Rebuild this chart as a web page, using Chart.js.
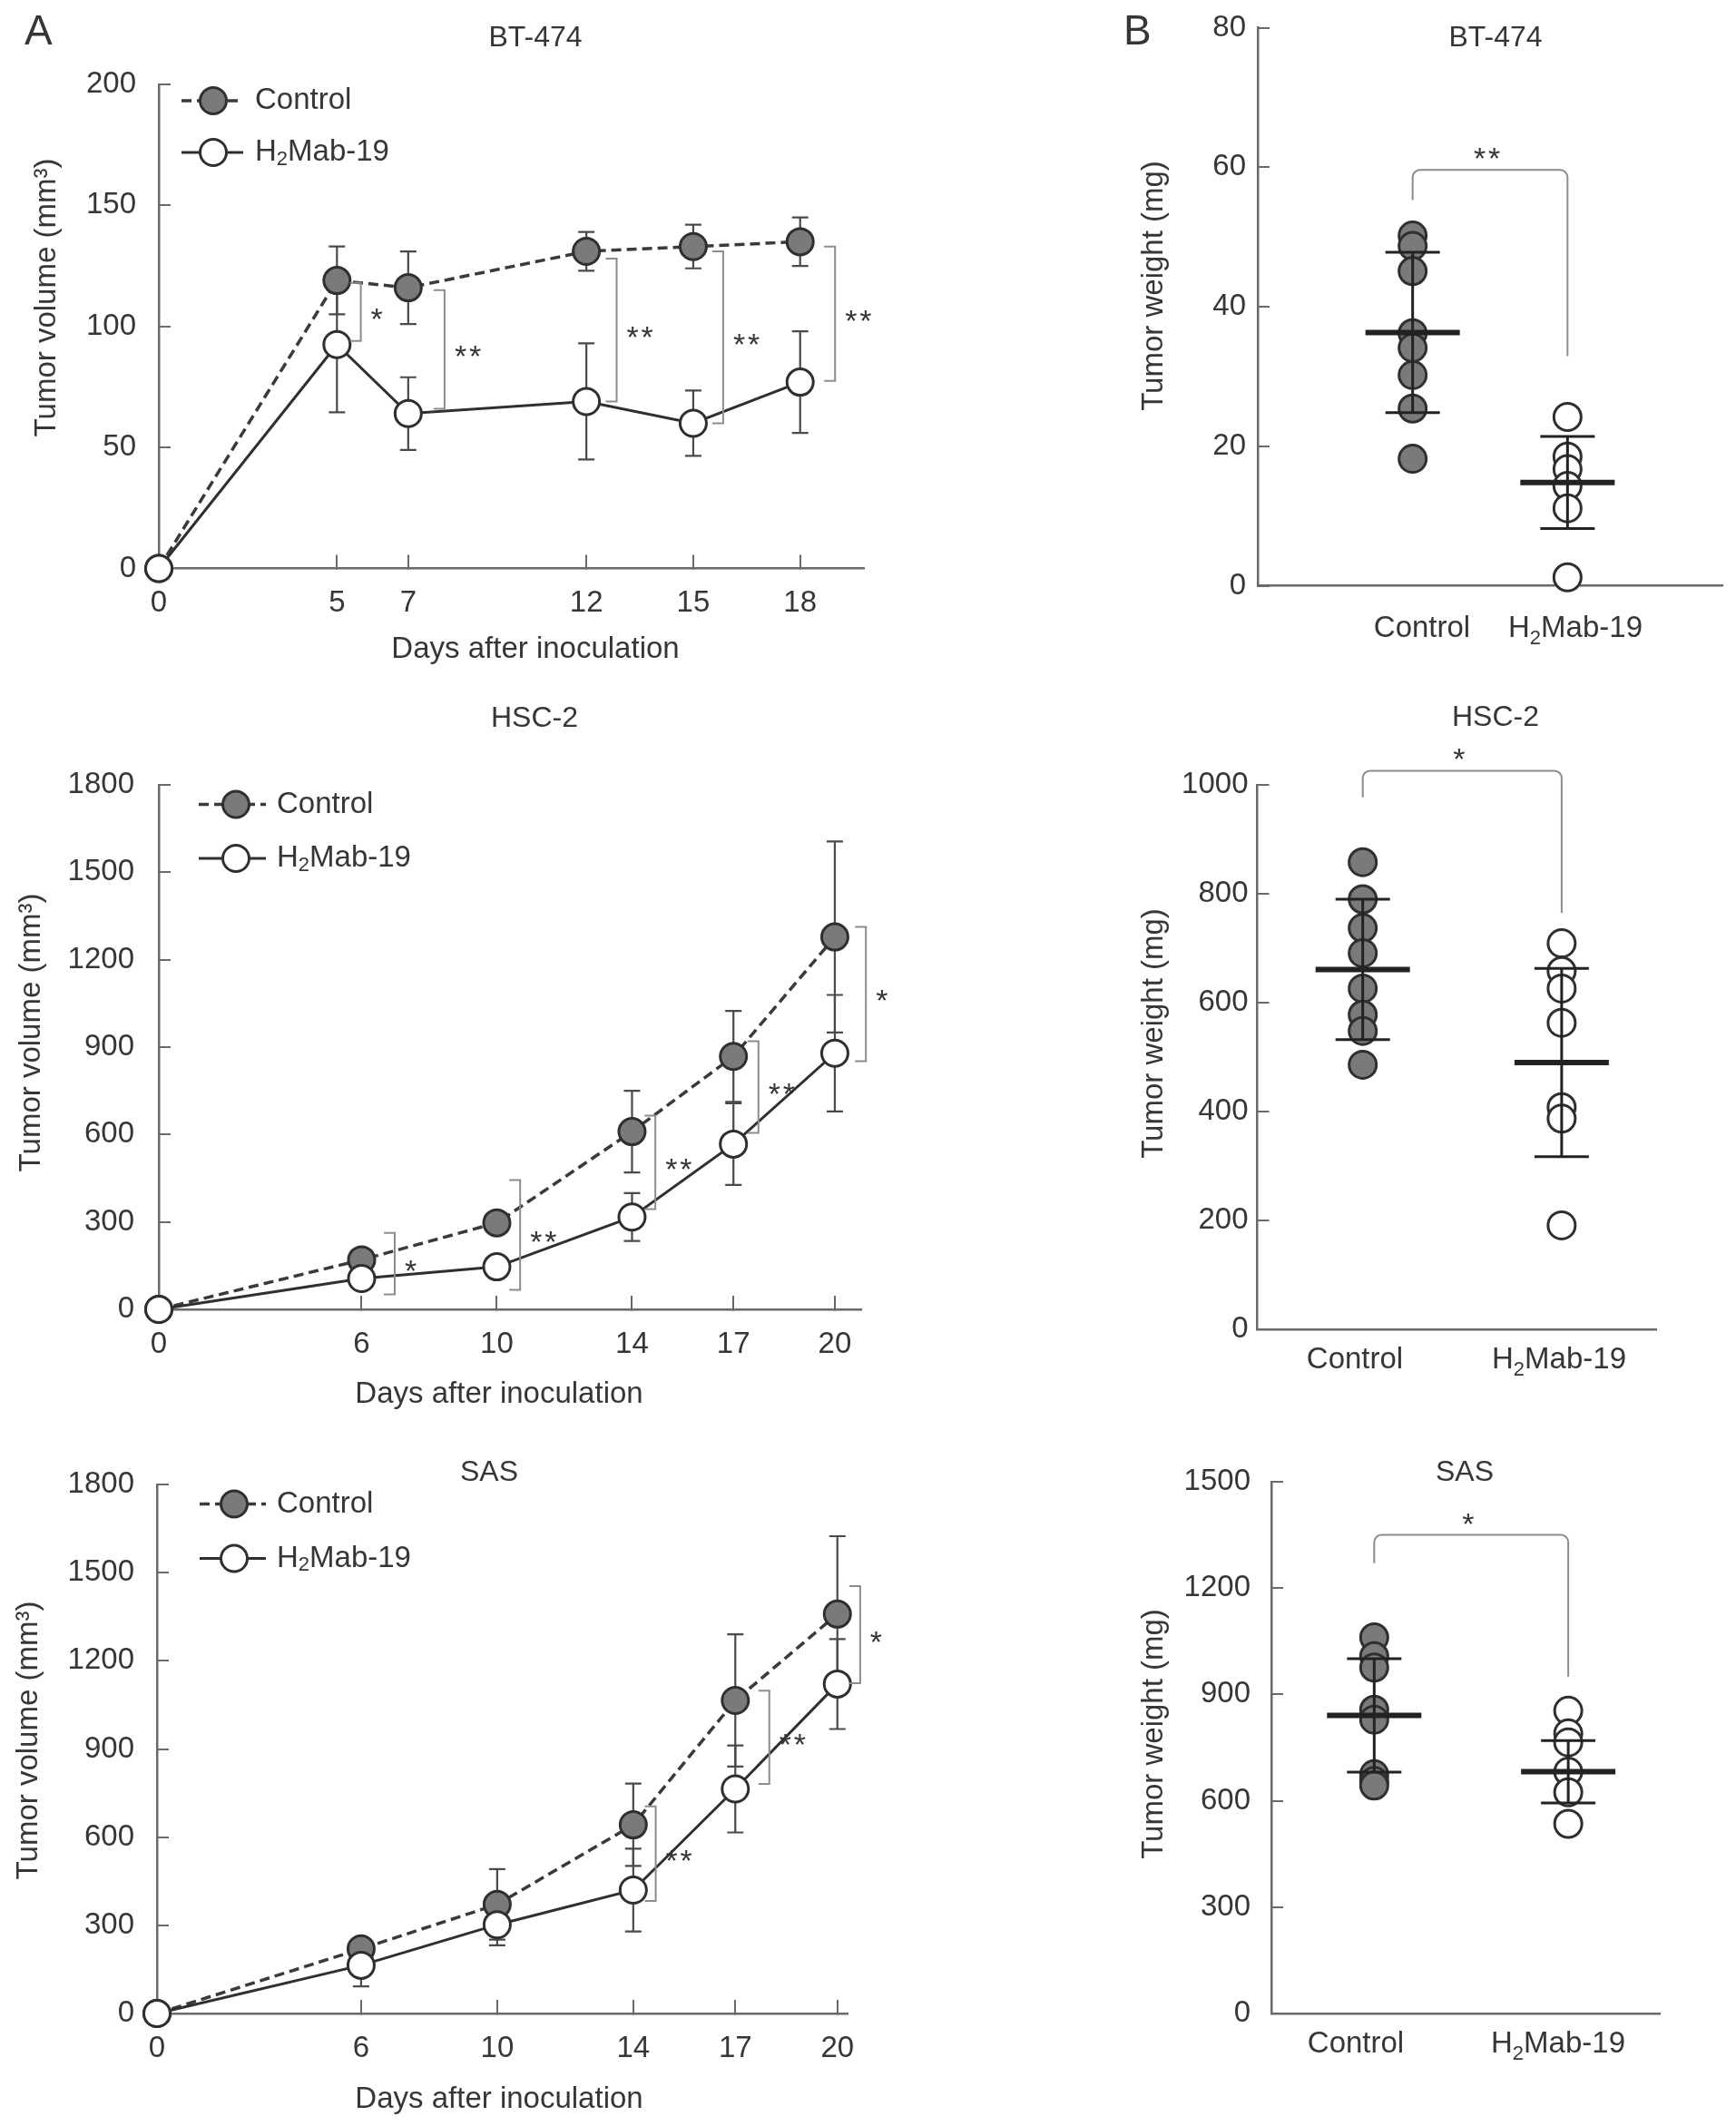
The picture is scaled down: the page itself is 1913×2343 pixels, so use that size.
<!DOCTYPE html>
<html lang="en">
<head>
<meta charset="UTF-8">
<title>H2Mab-19 tumour volume and weight</title>
<script src="https://cdn.jsdelivr.net/npm/chart.js"></script>
<style>
  body { margin: 0; background: #fff; }
  #page { position: relative; width: 1913px; height: 2343px; background: #fff; overflow: hidden; }
  .panel { position: absolute; }
</style>
</head>
<body>
<div id="page">
  <div class="panel" id="pA1"><canvas></canvas></div>
  <div class="panel" id="pA2"><canvas></canvas></div>
  <div class="panel" id="pA3"><canvas></canvas></div>
  <div class="panel" id="pB1"><canvas></canvas></div>
  <div class="panel" id="pB2"><canvas></canvas></div>
  <div class="panel" id="pB3"><canvas></canvas></div>
</div>

<script>
  // ---- A: tumour volume (mean +/- SD) ----
  const btDays = [0, 5, 7, 12, 15, 18];
  const btCtrl = [0, 119, 116, 131, 133, 135];
  const btCtrlSd = [0, 14, 15, 8, 9, 10];
  const btMab = [0, 92.5, 64, 69, 60, 77];
  const btMabSd = [0, 28, 15, 24, 13.5, 21];
  const btVolTicks = [0, 50, 100, 150, 200];
  // brackets: [day position, upper value, lower value, mark]
  const btSig = [[5.67, 118, 94, '*'], [8.02, 115, 66, '**'], [12.85, 128, 69, '**'], [15.84, 131, 60, '**'], [18.98, 133, 77.5, '**']];

  const hscDays = [0, 6, 10, 14, 17, 20];
  const hscCtrl = [0, 170, 297, 610, 868, 1278];
  const hscCtrlSd = [0, 25, 35, 140, 156, 328];
  const hscMab = [0, 106, 146, 317, 567, 879];
  const hscMabSd = [0, 30, 25, 82, 140, 200];
  const hscVolTicks = [0, 300, 600, 900, 1200, 1500, 1800];
  const hscSig = [[6.98, 262, 51, '*'], [10.69, 444, 67, '**'], [14.69, 665, 344, '**'], [17.74, 920, 606, '**'], [20.92, 1313, 852, '*']];

  const sasDays = [0, 6, 10, 14, 17, 20];
  const sasCtrl = [0, 220, 371, 642, 1065, 1359];
  const sasCtrlSd = [0, 25, 120, 140, 225, 265];
  const sasMab = [0, 164, 302, 420, 764, 1121];
  const sasMabSd = [0, 72, 70, 141, 148, 153];
  const sasVolTicks = [0, 300, 600, 900, 1200, 1500, 1800];
  const sasSig = [[14.66, 705, 383, '**'], [18.0, 1098, 781, '**'], [20.67, 1454, 1124, '*']];

  // ---- B: tumour weight per mouse, with mean +/- SD ----
  const groups = ['Control', 'H2Mab-19'];
  const btWtCtrl = [50.2, 48.7, 45.1, 36.2, 34.1, 30.2, 25.4, 18.2];
  const btWtMab = [24.2, 18.5, 16.7, 14.3, 11.1, 1.2];
  const btWtMean = [36.3, 14.8];
  const btWtSd = [11.5, 6.6];
  const btWtTicks = [0, 20, 40, 60, 80];
  const btWtSig = [59.6, 55.3, 32.9, '**']; // bracket top, left end, right end, mark

  const hscWtCtrl = [858, 790, 737, 691, 626, 578, 548, 486];
  const hscWtMab = [709, 658, 626, 563, 408, 387, 191];
  const hscWtMean = [661, 490];
  const hscWtSd = [129, 173];
  const hscWtTicks = [0, 200, 400, 600, 800, 1000];
  const hscWtSig = [1026, 977, 765, '*'];

  const sasWtCtrl = [1061, 1008, 976, 857, 829, 675, 656, 643];
  const sasWtMab = [854, 790, 765, 682, 624, 535];
  const sasWtMean = [841, 682];
  const sasWtSd = [160, 88];
  const sasWtTicks = [0, 300, 600, 900, 1200, 1500];
  const sasWtSig = [1350, 1270, 950, '*'];

  // ---- styling ----
  const FONT = '"Liberation Sans", Arial, Helvetica, sans-serif';
  const INK = '#363636';
  const AXIS = '#6a6a6a';
  const GREY_FILL = '#7a7a7a';
  const EDGE = '#2f2f2f';
  const BRACKET = '#8c8c8c';

  function parts(s) {
    // "H2Mab-19" -> H, subscript 2, Mab-19
    if (s.startsWith('H2')) return [['H', false], ['2', true], [s.slice(2), false]];
    return [[s, false]];
  }

  function label(ctx, text, x, y, size, align, baseline) {
    const p = parts(text);
    const fontFor = sub => (sub ? Math.round(size * 0.66) : size) + 'px ' + FONT;
    let w = 0;
    p.forEach(([t, sub]) => { ctx.font = fontFor(sub); w += ctx.measureText(t).width; });
    let cx = align === 'center' ? x - w / 2 : align === 'right' ? x - w : x;
    ctx.textAlign = 'left';
    ctx.textBaseline = baseline || 'alphabetic';
    p.forEach(([t, sub]) => {
      ctx.font = fontFor(sub);
      ctx.fillText(t, cx, sub ? y + size * 0.24 : y);
      cx += ctx.measureText(t).width;
    });
  }

  function stars(ctx, mark, x, yMid) {
    ctx.font = '34px ' + FONT;
    ctx.textAlign = 'left';
    ctx.textBaseline = 'alphabetic';
    for (let i = 0; i < mark.length; i++) ctx.fillText('*', x + i * 16, yMid + 19);
  }

  // axes take exactly the margin between the canvas edge and the plot area
  function fixedAxis(margin) {
    return scale => {
      if (scale.isHorizontal()) scale.height = margin.bottom; else scale.width = margin.left;
      scale.paddingLeft = scale.paddingRight = scale.paddingTop = scale.paddingBottom = 0;
    };
  }

  function useTicks(values) {
    return scale => { scale.ticks = values.map(v => ({ value: v })); };
  }

  function place(id, box, area) {
    const el = document.getElementById(id);
    el.style.left = box[0] + 'px';
    el.style.top = box[1] + 'px';
    el.style.width = box[2] + 'px';
    el.style.height = box[3] + 'px';
    return {
      canvas: el.querySelector('canvas'),
      margin: { left: area[0] - box[0], top: area[1] - box[1], right: box[0] + box[2] - area[2], bottom: box[1] + box[3] - area[3] }
    };
  }

  function yAxis(ticks, gap, margin) {
    return {
      min: ticks[0], max: ticks[ticks.length - 1],
      afterFit: fixedAxis(margin), afterBuildTicks: useTicks(ticks),
      border: { color: AXIS, width: 2.5 },
      grid: { drawOnChartArea: false, color: AXIS, lineWidth: 2, tickLength: -13 },
      ticks: { padding: gap + 13, color: INK, font: { family: FONT, size: 33 }, callback: v => String(v) }
    };
  }

  const markerCtrl = { pointRadius: 14.5, pointHoverRadius: 14.5, pointBackgroundColor: GREY_FILL, pointBorderColor: EDGE, pointBorderWidth: 3 };
  const markerMab = { pointRadius: 14.5, pointHoverRadius: 14.5, pointBackgroundColor: '#ffffff', pointBorderColor: EDGE, pointBorderWidth: 3 };

  // ---------- A panels ----------
  function volumeChart(id, s) {
    const { canvas, margin } = place(id, s.box, s.area);
    const [bx, by] = s.box;
    const pts = vals => s.days.map((d, i) => ({ x: d, y: vals[i] }));

    const errorBars = {
      id: 'errorBars',
      beforeDatasetsDraw(chart) {
        const { ctx, scales: { x, y } } = chart;
        ctx.save();
        ctx.strokeStyle = '#4a4a4a';
        ctx.lineWidth = 2.2;
        chart.data.datasets.forEach(ds => {
          ds.data.forEach((p, i) => {
            const sd = ds.sd[i];
            if (!sd) return;
            const px = x.getPixelForValue(p.x);
            const hi = y.getPixelForValue(p.y + sd);
            const lo = y.getPixelForValue(p.y - sd);
            ctx.beginPath();
            ctx.moveTo(px, hi); ctx.lineTo(px, lo);
            ctx.moveTo(px - 9, hi); ctx.lineTo(px + 9, hi);
            ctx.moveTo(px - 9, lo); ctx.lineTo(px + 9, lo);
            ctx.stroke();
          });
        });
        ctx.restore();
      }
    };

    const brackets = {
      id: 'brackets',
      afterDatasetsDraw(chart) {
        const { ctx, scales: { x, y } } = chart;
        ctx.save();
        s.sig.forEach(([d, hiV, loV, mark]) => {
          const px = x.getPixelForValue(d);
          const hi = y.getPixelForValue(hiV);
          const lo = y.getPixelForValue(loV);
          ctx.strokeStyle = BRACKET;
          ctx.lineWidth = 2;
          ctx.beginPath();
          ctx.moveTo(px - 12, hi); ctx.lineTo(px, hi); ctx.lineTo(px, lo); ctx.lineTo(px - 12, lo);
          ctx.stroke();
          ctx.fillStyle = INK;
          stars(ctx, mark, px + 11, (hi + lo) / 2);
        });
        ctx.restore();
      }
    };

    const decor = {
      id: 'decor',
      afterDraw(chart) {
        const ctx = chart.ctx;
        ctx.save();
        ctx.fillStyle = INK;
        if (s.letter) label(ctx, s.letter[0], s.letter[1] - bx, s.letter[2] - by, 46, 'left');
        label(ctx, s.title[0], s.title[1] - bx, s.title[2] - by, 32, 'center');
        label(ctx, 'Days after inoculation', s.xTitle[0] - bx, s.xTitle[1] - by, 33, 'center');
        ctx.save();
        ctx.translate(s.yTitle[0] - bx, s.yTitle[1] - by);
        ctx.rotate(-Math.PI / 2);
        label(ctx, 'Tumor volume (mm³)', 0, 0, 33, 'center', 'middle');
        ctx.restore();

        // legend: line sample with marker, then name
        const L = s.legend;
        chart.data.datasets.forEach((ds, i) => {
          const ly = L.y[i] - by;
          ctx.setLineDash(ds.borderDash || []);
          ctx.strokeStyle = ds.borderColor;
          ctx.lineWidth = ds.borderWidth;
          ctx.beginPath(); ctx.moveTo(L.x1 - bx, ly); ctx.lineTo(L.x2 - bx, ly); ctx.stroke();
          ctx.setLineDash([]);
          ctx.beginPath();
          ctx.arc(L.mx - bx, ly, ds.pointRadius, 0, Math.PI * 2);
          ctx.fillStyle = ds.pointBackgroundColor; ctx.fill();
          ctx.lineWidth = ds.pointBorderWidth; ctx.strokeStyle = ds.pointBorderColor; ctx.stroke();
          ctx.fillStyle = INK;
          label(ctx, ds.label, L.tx - bx, ly, 33, 'left', 'middle');
        });
        ctx.restore();
      }
    };

    return new Chart(canvas, {
      type: 'line',
      data: {
        datasets: [
          Object.assign({ label: groups[0], data: pts(s.ctrl), sd: s.ctrlSd, order: 1, borderColor: '#3a3a3a', borderWidth: 3.5, borderDash: [11, 6], fill: false, tension: 0, clip: false }, markerCtrl),
          Object.assign({ label: groups[1], data: pts(s.mab), sd: s.mabSd, order: 0, borderColor: '#2f2f2f', borderWidth: 3, fill: false, tension: 0, clip: false }, markerMab)
        ]
      },
      options: {
        responsive: true, maintainAspectRatio: false, animation: false, events: [],
        layout: { autoPadding: false, padding: { left: 0, top: margin.top, right: margin.right, bottom: 0 } },
        plugins: { legend: { display: false }, tooltip: { enabled: false } },
        scales: {
          x: {
            type: 'linear', min: 0, max: s.xMax,
            afterFit: fixedAxis(margin), afterBuildTicks: useTicks(s.days),
            border: { color: AXIS, width: 2.5 },
            grid: { drawOnChartArea: false, color: AXIS, lineWidth: 2, tickLength: -15 },
            ticks: { padding: 34, color: INK, autoSkip: false, maxRotation: 0, font: { family: FONT, size: 33 }, callback: v => String(v) }
          },
          y: yAxis(s.yTicks, s.gap, margin)
        }
      },
      plugins: [errorBars, brackets, decor]
    });
  }

  // ---------- B panels ----------
  function weightChart(id, s) {
    const { canvas, margin } = place(id, s.box, s.area);
    const [bx, by] = s.box;

    const meanSd = {
      id: 'meanSd',
      afterDatasetsDraw(chart) {
        const { ctx, scales: { x, y } } = chart;
        ctx.save();
        ctx.strokeStyle = '#222';
        s.mean.forEach((m, i) => {
          const px = x.getPixelForValue(i + 1);
          const pm = y.getPixelForValue(m);
          const hi = y.getPixelForValue(m + s.sd[i]);
          const lo = y.getPixelForValue(m - s.sd[i]);
          ctx.lineWidth = 3;
          ctx.beginPath();
          ctx.moveTo(px, hi); ctx.lineTo(px, lo);
          ctx.moveTo(px - 30, hi); ctx.lineTo(px + 30, hi);
          ctx.moveTo(px - 30, lo); ctx.lineTo(px + 30, lo);
          ctx.stroke();
          ctx.lineWidth = 6;
          ctx.beginPath();
          ctx.moveTo(px - 52, pm); ctx.lineTo(px + 52, pm);
          ctx.stroke();
        });
        ctx.restore();
      }
    };

    const decor = {
      id: 'decor',
      afterDraw(chart) {
        const { ctx, scales: { x, y } } = chart;
        ctx.save();
        // significance bracket across the two groups
        const [topV, leftV, rightV, mark] = s.sig;
        const x1 = x.getPixelForValue(1), x2 = x.getPixelForValue(2);
        const t = y.getPixelForValue(topV), r = 8;
        ctx.strokeStyle = BRACKET;
        ctx.lineWidth = 2;
        ctx.beginPath();
        ctx.moveTo(x1, y.getPixelForValue(leftV));
        ctx.lineTo(x1, t + r);
        ctx.arcTo(x1, t, x1 + r, t, r);
        ctx.lineTo(x2 - r, t);
        ctx.arcTo(x2, t, x2, t + r, r);
        ctx.lineTo(x2, y.getPixelForValue(rightV));
        ctx.stroke();
        ctx.fillStyle = INK;
        const sw = mark.length * 16 - 4;
        stars(ctx, mark, (x1 + x2) / 2 - sw / 2 - 4, t - 20);

        if (s.letter) label(ctx, s.letter[0], s.letter[1] - bx, s.letter[2] - by, 46, 'left');
        label(ctx, s.title[0], s.title[1] - bx, s.title[2] - by, 32, 'center');
        groups.forEach((g, i) => label(ctx, g, s.catX[i] - bx, s.catBase - by, 33, 'center'));
        ctx.translate(s.yTitle[0] - bx, s.yTitle[1] - by);
        ctx.rotate(-Math.PI / 2);
        label(ctx, 'Tumor weight (mg)', 0, 0, 33, 'center', 'middle');
        ctx.restore();
      }
    };

    return new Chart(canvas, {
      type: 'scatter',
      data: {
        datasets: [
          Object.assign({ label: groups[0], data: s.ctrl.map(v => ({ x: 1, y: v })), order: 1, clip: false }, markerCtrl, { pointRadius: 15 }),
          Object.assign({ label: groups[1], data: s.mab.map(v => ({ x: 2, y: v })), order: 0, clip: false }, markerMab, { pointRadius: 15 })
        ]
      },
      options: {
        responsive: true, maintainAspectRatio: false, animation: false, events: [],
        layout: { autoPadding: false, padding: { left: 0, top: margin.top, right: margin.right, bottom: 0 } },
        plugins: { legend: { display: false }, tooltip: { enabled: false } },
        scales: {
          x: {
            type: 'linear', min: s.xRange[0], max: s.xRange[1], afterFit: fixedAxis(margin),
            border: { color: AXIS, width: 2.5 },
            grid: { display: false },
            ticks: { display: false }
          },
          y: yAxis(s.yTicks, s.gap, margin)
        }
      },
      plugins: [meanSd, decor]
    });
  }

  volumeChart('pA1', {
    box: [0, 0, 1010, 760], area: [175, 93, 952, 626.5],
    days: btDays, ctrl: btCtrl, ctrlSd: btCtrlSd, mab: btMab, mabSd: btMabSd, sig: btSig,
    yTicks: btVolTicks, xMax: 19.79, gap: 25,
    letter: ['A', 27, 49], title: ['BT-474', 590, 51], xTitle: [590, 725], yTitle: [52, 328],
    legend: { x1: 200, x2: 268, mx: 235, tx: 281, y: [111, 168] }
  });

  volumeChart('pA2', {
    box: [0, 760, 1010, 800], area: [175, 865, 949, 1443],
    days: hscDays, ctrl: hscCtrl, ctrlSd: hscCtrlSd, mab: hscMab, mabSd: hscMabSd, sig: hscSig,
    yTicks: hscVolTicks, xMax: 20.78, gap: 27,
    title: ['HSC-2', 589, 801], xTitle: [550, 1546], yTitle: [35, 1138],
    legend: { x1: 219, x2: 293, mx: 260, tx: 305, y: [886.5, 946] }
  });

  volumeChart('pA3', {
    box: [0, 1560, 1010, 783], area: [173, 1636, 934, 2219],
    days: sasDays, ctrl: sasCtrl, ctrlSd: sasCtrlSd, mab: sasMab, mabSd: sasMabSd, sig: sasSig,
    yTicks: sasVolTicks, xMax: 20.3, gap: 25,
    title: ['SAS', 539, 1632], xTitle: [550, 2323], yTitle: [32, 1918],
    legend: { x1: 220, x2: 293, mx: 258, tx: 305, y: [1657.5, 1717.5] }
  });

  weightChart('pB1', {
    box: [1150, 0, 763, 760], area: [1386, 30.5, 1898, 645.5],
    ctrl: btWtCtrl, mab: btWtMab, mean: btWtMean, sd: btWtSd, sig: btWtSig,
    yTicks: btWtTicks, xRange: [0, 3], gap: 13,
    letter: ['B', 1238, 49], title: ['BT-474', 1648, 50.5], yTitle: [1272, 315],
    catX: [1567, 1736], catBase: 702
  });

  weightChart('pB2', {
    box: [1150, 760, 763, 800], area: [1385.5, 865, 1825, 1465],
    ctrl: hscWtCtrl, mab: hscWtMab, mean: hscWtMean, sd: hscWtSd, sig: hscWtSig,
    yTicks: hscWtTicks, xRange: [0.47, 2.475], gap: 10,
    title: ['HSC-2', 1648, 800], yTitle: [1272, 1139],
    catX: [1493, 1718], catBase: 1508
  });

  weightChart('pB3', {
    box: [1150, 1560, 763, 783], area: [1401, 1633, 1829.5, 2219],
    ctrl: sasWtCtrl, mab: sasWtMab, mean: sasWtMean, sd: sasWtSd, sig: sasWtSig,
    yTicks: sasWtTicks, xRange: [0.47, 2.474], gap: 23,
    title: ['SAS', 1614, 1632], yTitle: [1272, 1911],
    catX: [1494, 1717], catBase: 2262
  });
</script>
</body>
</html>
